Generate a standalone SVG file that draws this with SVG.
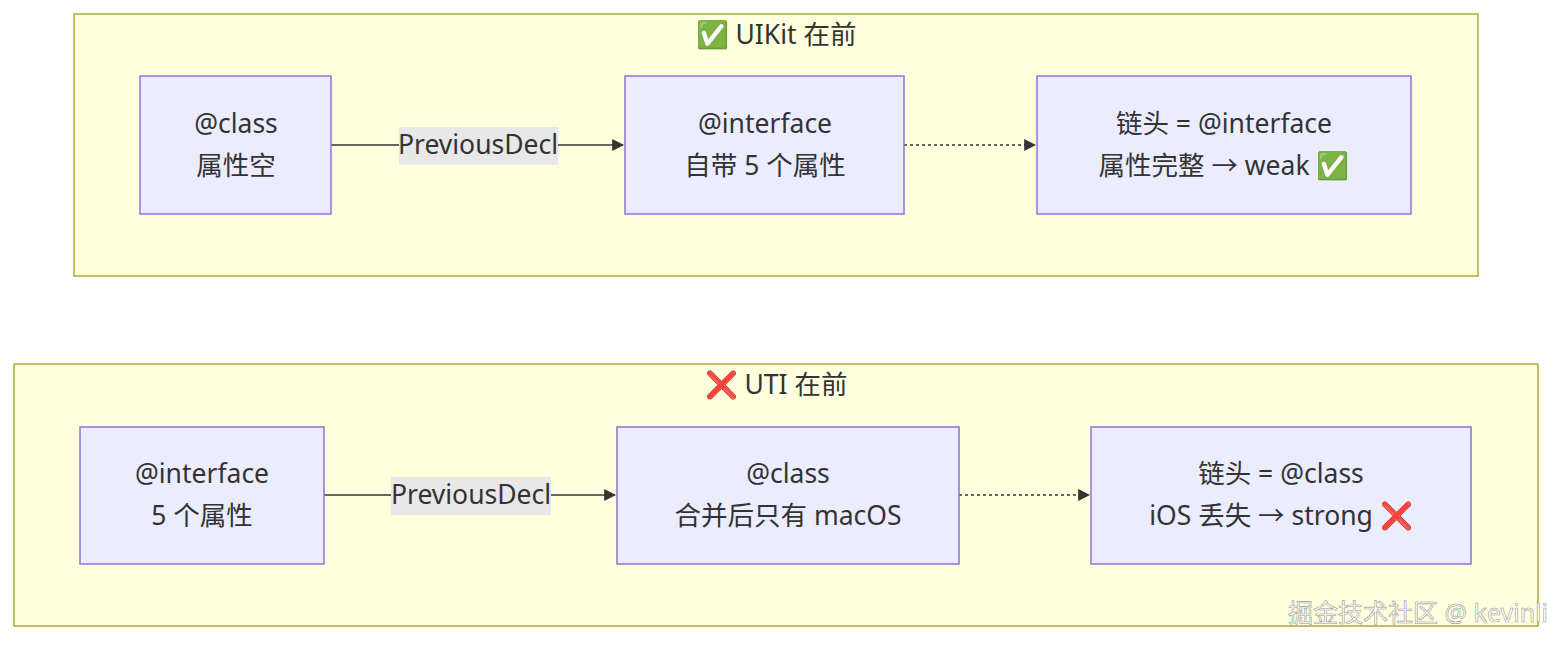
<svg xmlns="http://www.w3.org/2000/svg" width="1568" height="648" viewBox="0 0 1568 648">
<style>
.cl{fill:#FFFFDE;stroke:#AAAA33;stroke-width:1.5}
.nd{fill:#ECECFF;stroke:#9370DB;stroke-width:1.5}
text{font-family:"Noto Sans","Noto Sans CJK SC",sans-serif;font-size:26.5px;fill:#333;text-anchor:middle}
.e{stroke:#333;stroke-width:1.5;fill:none}
.d{stroke-dasharray:3,3}
.lb{fill:#E8E8E8}
.wm{font-size:25px;fill:#fff;stroke:#999;stroke-width:0.6;text-anchor:end}
</style>
<defs><marker id="ah" viewBox="0 0 10 10" refX="9" refY="5" markerWidth="8" markerHeight="8" orient="auto"><path d="M0,0L10,5L0,10z" fill="#333"/></marker></defs>
<g id="cluster1"><rect class="cl" x="74" y="14" width="1404" height="262"/><text x="776" y="44">✅ UIKit 在前</text></g>
<g id="cluster2"><rect class="cl" x="14" y="364" width="1524" height="262"/><text x="776" y="394">❌ UTI 在前</text></g>
<g id="connectors">
<path class="e" d="M331,145H623" marker-end="url(#ah)"/>
<rect class="lb" x="399" y="127" width="159" height="38"/><text x="478" y="154">PreviousDecl</text>
<path class="e d" d="M904,145H1035" marker-end="url(#ah)"/>
<path class="e" d="M324,495H615" marker-end="url(#ah)"/>
<rect class="lb" x="391" y="477" width="160" height="38"/><text x="471" y="504">PreviousDecl</text>
<path class="e d" d="M959,495H1089" marker-end="url(#ah)"/>
</g>
<g id="A1"><rect class="nd" x="140" y="76" width="191" height="138"/><text x="236" y="133">@class</text><text x="236" y="175">属性空</text></g>
<g id="B1"><rect class="nd" x="625" y="76" width="279" height="138"/><text x="765" y="133">@interface</text><text x="765" y="175">自带 5 个属性</text></g>
<g id="C1"><rect class="nd" x="1037" y="76" width="374" height="138"/><text x="1224" y="133">链头 = @interface</text><text x="1224" y="175">属性完整 → weak ✅</text></g>
<g id="A2"><rect class="nd" x="80" y="427" width="244" height="137"/><text x="202" y="483">@interface</text><text x="202" y="525">5 个属性</text></g>
<g id="B2"><rect class="nd" x="617" y="427" width="342" height="137"/><text x="788" y="483">@class</text><text x="788" y="525">合并后只有 macOS</text></g>
<g id="C2"><rect class="nd" x="1091" y="427" width="380" height="137"/><text x="1281" y="483">链头 = @class</text><text x="1281" y="525">iOS 丢失 → strong ❌</text></g>
<text class="wm" x="1548" y="622">掘金技术社区 @ kevinli</text>
</svg>
